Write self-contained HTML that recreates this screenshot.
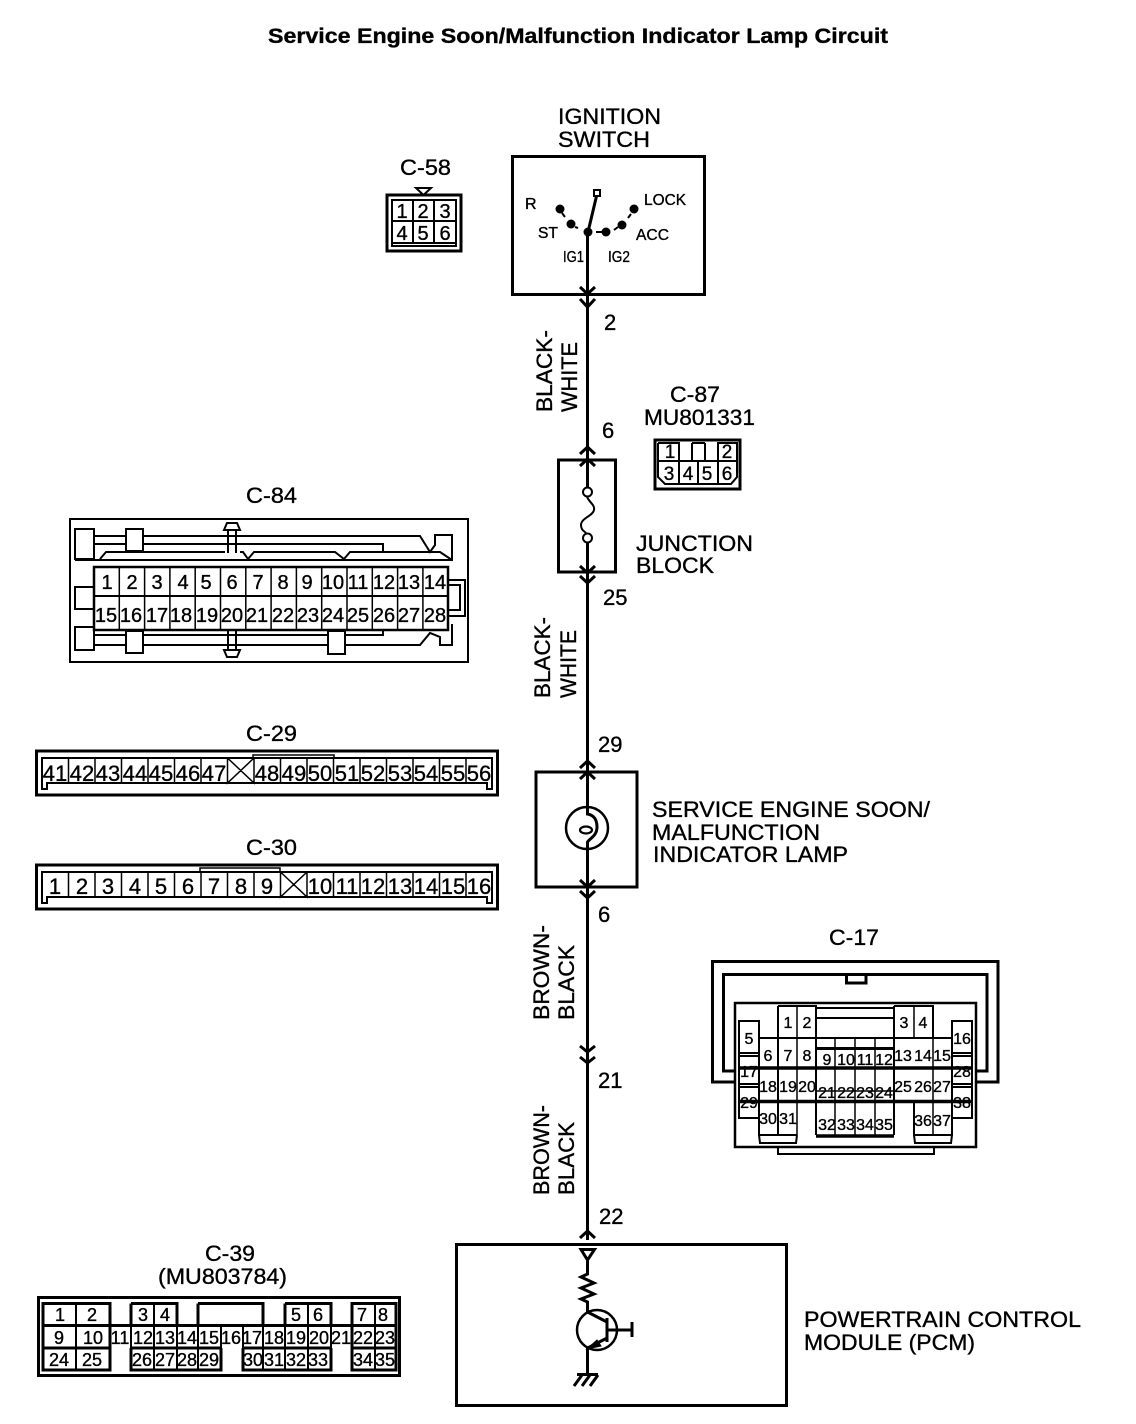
<!DOCTYPE html>
<html><head><meta charset="utf-8">
<style>
html,body{margin:0;padding:0;background:#fff}
svg{display:block}
text{font-family:"Liberation Sans",sans-serif;fill:#000;stroke:#000;stroke-width:.35px}
.l{font-size:22px}
.n{font-size:20px;text-anchor:middle}
.s{font-size:16px;text-anchor:middle}
.t{font-size:16px}
.w{fill:none;stroke:#000;stroke-width:3}
.h{fill:none;stroke:#000;stroke-width:2}
.m{fill:none;stroke:#000;stroke-width:1.5}
.b{fill:#000;stroke:none}
</style></head><body>
<svg width="1136" height="1424" viewBox="0 0 1136 1424" xmlns="http://www.w3.org/2000/svg">
<rect width="1136" height="1424" fill="#fff"/>
<text x="268" y="43" font-size="21" font-weight="bold" textLength="620" lengthAdjust="spacingAndGlyphs">Service Engine Soon/Malfunction Indicator Lamp Circuit</text>

<!-- Main wire -->
<path class="w" d="M587.5 232V487M587.5 543V808M587.5 845V1240"/>

<!-- Ignition switch -->
<text class="l" x="558" y="124" textLength="103" lengthAdjust="spacingAndGlyphs">IGNITION</text>
<text class="l" x="558" y="147" textLength="92" lengthAdjust="spacingAndGlyphs">SWITCH</text>
<rect class="w" x="512.5" y="156.5" width="192" height="138"/>
<path class="w" d="M588 232L597 194"/>
<rect x="594" y="190" width="6" height="6" fill="#fff" stroke="#000" stroke-width="2"/>
<g class="b"><circle cx="560" cy="209" r="4.5"/><circle cx="571" cy="224" r="4.5"/><circle cx="588" cy="232" r="4.5"/><circle cx="606" cy="232" r="4.5"/><circle cx="622" cy="225" r="4.5"/><circle cx="634" cy="209" r="4.5"/></g>
<path class="h" d="M562 213L565 217M575 227L578 228M596 232H603M618 227L614 230M631 214L628 218"/>
<text class="t" x="525" y="209">R</text>
<text class="t" x="538" y="238" textLength="20" lengthAdjust="spacingAndGlyphs">ST</text>
<text class="t" x="644" y="205" textLength="42" lengthAdjust="spacingAndGlyphs">LOCK</text>
<text class="t" x="636" y="240" textLength="33" lengthAdjust="spacingAndGlyphs">ACC</text>
<text class="t" x="563" y="262" textLength="21" lengthAdjust="spacingAndGlyphs">IG1</text>
<text class="t" x="608" y="262" textLength="22" lengthAdjust="spacingAndGlyphs">IG2</text>
<path class="w" d="M580 287L587.5 294L595 287M580 299L587.5 307L595 299"/>

<!-- Wire labels -->
<text class="l" x="604" y="330">2</text>
<text class="l" x="602" y="438">6</text>
<text class="l" x="603" y="605">25</text>
<text class="l" x="598" y="752">29</text>
<text class="l" x="598" y="922">6</text>
<text class="l" x="598" y="1088">21</text>
<text class="l" x="599" y="1224">22</text>
<text class="l" transform="translate(552,412) rotate(-90)" textLength="82" lengthAdjust="spacingAndGlyphs">BLACK-</text>
<text class="l" transform="translate(577,412) rotate(-90)" textLength="70" lengthAdjust="spacingAndGlyphs">WHITE</text>
<text class="l" transform="translate(550,698) rotate(-90)" textLength="81" lengthAdjust="spacingAndGlyphs">BLACK-</text>
<text class="l" transform="translate(576,698) rotate(-90)" textLength="68" lengthAdjust="spacingAndGlyphs">WHITE</text>
<text class="l" transform="translate(549,1020) rotate(-90)" textLength="95" lengthAdjust="spacingAndGlyphs">BROWN-</text>
<text class="l" transform="translate(574,1020) rotate(-90)" textLength="75" lengthAdjust="spacingAndGlyphs">BLACK</text>
<text class="l" transform="translate(549,1195) rotate(-90)" textLength="90" lengthAdjust="spacingAndGlyphs">BROWN-</text>
<text class="l" transform="translate(574,1195) rotate(-90)" textLength="73" lengthAdjust="spacingAndGlyphs">BLACK</text>

<!-- Junction block -->
<rect class="w" x="558.5" y="460" width="57" height="112"/>
<path class="w" d="M580 454L587.5 447L595 454M580 466L587.5 459L595 466M580 566L587.5 573L595 566M580 576L587.5 583L595 576"/>
<circle cx="587.5" cy="492" r="4.5" fill="#fff" stroke="#000" stroke-width="2"/>
<circle cx="587.5" cy="538" r="4.5" fill="#fff" stroke="#000" stroke-width="2"/>
<path class="h" d="M587 497C590 503 595 505 594 510C593 516 581 518 581 525C581 530 584 531 586 533"/>
<text class="l" x="636" y="551" textLength="117" lengthAdjust="spacingAndGlyphs">JUNCTION</text>
<text class="l" x="636" y="573" textLength="78" lengthAdjust="spacingAndGlyphs">BLOCK</text>

<!-- C-87 -->
<text class="l" x="670" y="402" textLength="50" lengthAdjust="spacingAndGlyphs">C-87</text>
<text class="l" x="644" y="425" textLength="111" lengthAdjust="spacingAndGlyphs">MU801331</text>
<rect class="w" x="655" y="440" width="85" height="49"/>
<path class="h" d="M658 443H679V461M658 443V477L665 484H731L737 477V443H718V484M658 461H737M679 461V484M698 461V484M692 443V461M705 443V461M692 443H705"/>
<g class="n" style="font-size:19px"><text x="670" y="458">1</text><text x="727" y="458">2</text><text x="669" y="480">3</text><text x="688" y="480">4</text><text x="707" y="480">5</text><text x="727" y="480">6</text></g>

<!-- C-58 -->
<text class="l" x="400" y="175" textLength="51" lengthAdjust="spacingAndGlyphs">C-58</text>
<path class="h" d="M416 188H431L423.5 195Z"/>
<rect class="w" x="387" y="195" width="74" height="56"/>
<rect class="h" x="392" y="200" width="64" height="46"/>
<path class="h" d="M392 221H456M392 243H456M413 200V243M434 200V243"/>
<g class="n"><text x="402" y="218">1</text><text x="423" y="218">2</text><text x="445" y="218">3</text><text x="402" y="240">4</text><text x="423" y="240">5</text><text x="445" y="240">6</text></g>

<!-- C-84 -->
<text class="l" x="246" y="503" textLength="51" lengthAdjust="spacingAndGlyphs">C-84</text>
<rect class="h" x="70" y="519" width="398" height="143"/>
<path class="h" d="M75 529H94V559H75ZM126 529H143V551H126ZM94 536H126M143 536H420L430 552L435 545V535H452V560H75M94 544H126M143 544H383V551M100 559L106 552H225M240 552L243 552L248 559L254 552H335L344 559L350 552H430L440 552L452 560M227 523H237L240 530H224ZM228 530V553M236 530V553"/>
<path class="h" d="M75 587H94V609H75ZM75 627H94V650H75ZM126 631H143V653H126ZM328 631H345V654H328ZM94 635H126M143 635H328M345 635H383V631M94 645H126M143 645H328M345 645H420L430 633L440 637V645H452V624M228 630V650M236 630V650M224 650H240L237 657H227ZM448 580H465V616H448M448 585H460V610H448"/>
<rect x="94" y="567" width="354" height="63" fill="#fff" stroke="#000" stroke-width="2.5"/>
<path class="h" d="M94 596H448"/>
<path class="m" d="M119.300 567V630M144.600 567V630M169.900 567V630M195.200 567V630M220.500 567V630M245.800 567V630M271.100 567V630M296.400 567V630M321.700 567V630M347 567V630M372.300 567V630M397.600 567V630M422.900 567V630"/>
<g class="n"><text x="107" y="589">1</text><text x="132" y="589">2</text><text x="157" y="589">3</text><text x="183" y="589">4</text><text x="206" y="589">5</text><text x="232" y="589">6</text><text x="258" y="589">7</text><text x="283" y="589">8</text><text x="307" y="589">9</text><text x="333" y="589">10</text><text x="358" y="589">11</text><text x="384" y="589">12</text><text x="409" y="589">13</text><text x="435" y="589">14</text>
<text x="106" y="622">15</text><text x="131" y="622">16</text><text x="157" y="622">17</text><text x="181" y="622">18</text><text x="207" y="622">19</text><text x="232" y="622">20</text><text x="257" y="622">21</text><text x="283" y="622">22</text><text x="308" y="622">23</text><text x="333" y="622">24</text><text x="358" y="622">25</text><text x="384" y="622">26</text><text x="409" y="622">27</text><text x="435" y="622">28</text></g>

<!-- C-29 -->
<text class="l" x="246" y="741" textLength="51" lengthAdjust="spacingAndGlyphs">C-29</text>
<rect class="w" x="36.500" y="751" width="461" height="44"/>
<path class="h" d="M42 789V758H492V789H487V783H47V789Z"/>
<path class="m" d="M253 758V755H334V758M68.500 758V783M95 758V783M121.500 758V783M148 758V783M174.500 758V783M201 758V783M227.500 758V783L254 758M254 758V783L227.500 758M280.500 758V783M307 758V783M333.500 758V783M360 758V783M386.500 758V783M413 758V783M439.500 758V783M466 758V783"/>
<g class="n" style="font-size:22px"><text x="55" y="781">41</text><text x="82" y="781">42</text><text x="108" y="781">43</text><text x="135" y="781">44</text><text x="161" y="781">45</text><text x="188" y="781">46</text><text x="214" y="781">47</text><text x="267" y="781">48</text><text x="294" y="781">49</text><text x="320" y="781">50</text><text x="347" y="781">51</text><text x="373" y="781">52</text><text x="400" y="781">53</text><text x="426" y="781">54</text><text x="453" y="781">55</text><text x="479" y="781">56</text></g>

<!-- C-30 -->
<text class="l" x="246" y="855" textLength="51" lengthAdjust="spacingAndGlyphs">C-30</text>
<rect class="w" x="36.500" y="865" width="461" height="44"/>
<path class="h" d="M42 903V872H492V903H487V897H47V903Z"/>
<path class="m" d="M200 872V868H280V872M68.500 872V897M95 872V897M121.500 872V897M148 872V897M174.500 872V897M201 872V897M227.500 872V897M254 872V897M280.500 872V897L307 872M307 872V897L280.500 872M333.500 872V897M360 872V897M386.500 872V897M413 872V897M439.500 872V897M466 872V897"/>
<g class="n" style="font-size:22px"><text x="55" y="894">1</text><text x="82" y="894">2</text><text x="108" y="894">3</text><text x="135" y="894">4</text><text x="161" y="894">5</text><text x="188" y="894">6</text><text x="214" y="894">7</text><text x="241" y="894">8</text><text x="267" y="894">9</text><text x="320" y="894">10</text><text x="347" y="894">11</text><text x="373" y="894">12</text><text x="400" y="894">13</text><text x="426" y="894">14</text><text x="453" y="894">15</text><text x="479" y="894">16</text></g>

<!-- Lamp -->
<rect class="w" x="536" y="772" width="101" height="115"/>
<path class="w" d="M580 768L587.500 761L595 768M580 779L587.500 772L595 779M580 880L587.500 887L595 880M580 891L587.500 898L595 891"/>
<circle cx="587" cy="828" r="21" fill="#fff" stroke="#000" stroke-width="2.500"/>
<path class="w" d="M587.500 806V814C594 815 597 820 597 827C597 836 590 838 587.500 842V850"/>
<ellipse cx="586" cy="830" rx="6" ry="3.500" fill="none" stroke="#000" stroke-width="2.200"/>
<text class="l" x="652" y="817" textLength="278" lengthAdjust="spacingAndGlyphs">SERVICE ENGINE SOON/</text>
<text class="l" x="652" y="840" textLength="168" lengthAdjust="spacingAndGlyphs">MALFUNCTION</text>
<text class="l" x="653" y="862" textLength="195" lengthAdjust="spacingAndGlyphs">INDICATOR LAMP</text>

<path class="w" d="M580 1046L587.500 1052L595 1046M580 1057L587.500 1063L595 1057M580 1238L587.500 1231L595 1238"/>

<!-- C-17 -->
<text class="l" x="829" y="945" textLength="50" lengthAdjust="spacingAndGlyphs">C-17</text>
<path class="w" d="M735 1082H712.500V961.500H998V1082H976M735 1071H723.500V974.500H987V1071H976"/>
<path class="w" d="M846.500 975V983H866V975"/>
<rect x="735" y="1003" width="241" height="144" fill="#fff" stroke="#000" stroke-width="2.500"/>
<path class="h" d="M778 1147V1154H934V1147"/>
<path class="h" d="M739 1021H759V1118H739ZM952 1021H972V1118H952ZM759 1038H952M778 1006H816V1135M778 1006V1135M816 1018H894M816 1008H894M894 1006H933V1038M894 1006V1135M759 1038V1135H797M759 1135L760 1143H796L797 1135M914 1103V1135H952V1103M914 1135L915 1143H951L952 1135M816 1136H894M739 1053H759M739 1056H759M952 1053H972M952 1056H972M739 1084H759M739 1087H759M952 1084H972M952 1087H972M739 1118H759"/>
<path class="m" d="M797 1006V1135M914 1006V1038M933 1038V1135M835 1038V1136M855 1038V1136M875 1038V1136M816 1091H894"/>
<path d="M816 1048.500H894" stroke="#000" stroke-width="3" fill="none"/>
<path d="M739 1068H972M739 1101.500H972M816 1136H894" stroke="#000" stroke-width="3.500" fill="none"/>
<g class="s"><text x="788" y="1028">1</text><text x="807" y="1028">2</text><text x="904" y="1028">3</text><text x="923" y="1028">4</text><text x="749" y="1044">5</text><text x="962" y="1044">16</text><text x="768" y="1061">6</text><text x="788" y="1061">7</text><text x="807" y="1061">8</text><text x="827" y="1065">9</text><text x="846" y="1065">10</text><text x="865" y="1065">11</text><text x="884" y="1065">12</text><text x="903" y="1061">13</text><text x="923" y="1061">14</text><text x="942" y="1061">15</text><text x="749" y="1077">17</text><text x="962" y="1077">28</text><text x="768" y="1092">18</text><text x="788" y="1092">19</text><text x="807" y="1092">20</text><text x="827" y="1098">21</text><text x="846" y="1098">22</text><text x="865" y="1098">23</text><text x="884" y="1098">24</text><text x="903" y="1092">25</text><text x="923" y="1092">26</text><text x="942" y="1092">27</text><text x="749" y="1108">29</text><text x="962" y="1108">38</text><text x="768" y="1124">30</text><text x="788" y="1124">31</text><text x="827" y="1130">32</text><text x="846" y="1130">33</text><text x="865" y="1130">34</text><text x="884" y="1130">35</text><text x="923" y="1126">36</text><text x="942" y="1126">37</text></g>

<!-- C-39 -->
<text class="l" x="205" y="1261" textLength="50" lengthAdjust="spacingAndGlyphs">C-39</text>
<text class="l" x="158" y="1284" textLength="129" lengthAdjust="spacingAndGlyphs">(MU803784)</text>
<rect class="w" x="38.500" y="1297.500" width="361" height="78"/>
<path class="w" d="M43 1303.500H110V1370H43ZM131 1303.500H177V1325M131 1303.500V1325M198 1303.500H263V1325M198 1303.500V1325M285 1303.500H331V1325M285 1303.500V1325M352 1303.500H396V1370H352ZM43 1325.500H396M43 1348H110M131 1348H221M243 1348H331M352 1348H396M131 1348V1370H221V1348M243 1348V1370H331V1348"/>
<path class="h" d="M76 1303V1370M154 1303V1370M177 1325V1370M198 1325V1370M221 1325V1348M243 1325V1348M263 1325V1370M285 1325V1370M308 1303V1370M331 1325V1348M352 1325V1348M375 1303V1370M110 1325V1348M131 1325V1348"/>
<g class="n" style="font-size:18px"><text x="60" y="1321">1</text><text x="92" y="1321">2</text><text x="143" y="1321">3</text><text x="165" y="1321">4</text><text x="296" y="1321">5</text><text x="318" y="1321">6</text><text x="362" y="1321">7</text><text x="383" y="1321">8</text>
<text x="59" y="1344">9</text><text x="93" y="1344">10</text><text x="120" y="1344">11</text><text x="143" y="1344">12</text><text x="165" y="1344">13</text><text x="187" y="1344">14</text><text x="209" y="1344">15</text><text x="231" y="1344">16</text><text x="252" y="1344">17</text><text x="274" y="1344">18</text><text x="296" y="1344">19</text><text x="319" y="1344">20</text><text x="341" y="1344">21</text><text x="363" y="1344">22</text><text x="385" y="1344">23</text>
<text x="59" y="1366">24</text><text x="92" y="1366">25</text><text x="142" y="1366">26</text><text x="165" y="1366">27</text><text x="187" y="1366">28</text><text x="209" y="1366">29</text><text x="253" y="1366">30</text><text x="274" y="1366">31</text><text x="296" y="1366">32</text><text x="318" y="1366">33</text><text x="363" y="1366">34</text><text x="385" y="1366">35</text></g>

<!-- PCM -->
<rect class="w" x="456.500" y="1244.500" width="330" height="161" fill="#fff"/>
<path class="w" d="M581 1249.500H594.500L587.500 1260Z"/>
<path class="w" d="M587.500 1260V1274L581 1277L594 1283L581 1288L594 1294L581 1299L587.500 1302V1312"/>
<circle cx="597" cy="1330" r="20" fill="#fff" stroke="#000" stroke-width="2.500"/>
<path class="w" d="M587.500 1312L607 1322M607 1318V1342M607 1330H632M632 1322V1337M607 1338L587.500 1348V1375"/>
<path d="M587 1349L597 1340L601 1346Z" fill="#000" stroke="#000"/>
<path class="w" d="M577 1374.500H598M582 1375L574 1386M590 1375L582 1386M598 1375L590 1386"/>
<text class="l" x="804" y="1327" textLength="277" lengthAdjust="spacingAndGlyphs">POWERTRAIN CONTROL</text>
<text class="l" x="804" y="1350" textLength="171" lengthAdjust="spacingAndGlyphs">MODULE (PCM)</text>
</svg>
</body></html>
